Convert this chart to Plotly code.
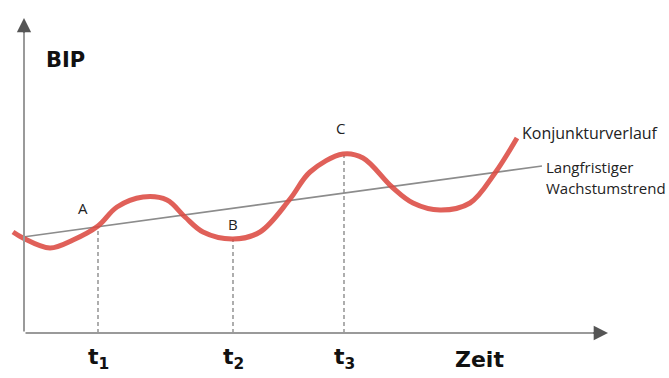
import plotly.graph_objects as go

# Konjunkturverlauf (business cycle)
curve_t = [-1.1, -0.1, 2.6, 4.9, 7.4, 9.3, 11.9, 14.3, 16.1, 17.9, 20.9, 23.6, 26.6, 28.6,
           31.9, 33.9, 36.8, 38.9, 41.6, 44.6, 47.1, 49.3]
curve_bip = [10.1, 9.5, 8.5, 9.3, 10.7, 12.6, 13.6, 13.3, 11.6, 10.1, 9.4, 10.1, 13.4, 16.1,
             17.9, 17.5, 14.6, 13.0, 12.3, 13.0, 16.0, 19.5]

# Langfristiger Wachstumstrend
trend_t = [-0.1, 51.8]
trend_bip = [9.6, 16.7]

# Marked time points t1, t2, t3 and their BIP values on the curve
point_t = [7.4, 20.9, 32.0]
point_bip = [10.7, 9.4, 17.8]
point_labels = ["t<sub>1</sub>", "t<sub>2</sub>", "t<sub>3</sub>"]

# Letters A, B, C
letter_text = ["A", "B", "C"]
letter_t = [5.9, 20.9, 31.6]
letter_bip = [12.5, 10.9, 20.5]

red = "#dc4b43"

fig = go.Figure()

# dashed drop lines
for t, b in zip(point_t, point_bip):
    fig.add_trace(go.Scatter(x=[t, t], y=[0, b], mode="lines",
                             line=dict(color="#9a9a9a", width=1.6, dash="4px,3px"),
                             hoverinfo="skip", showlegend=False))

# trend
fig.add_trace(go.Scatter(x=trend_t, y=trend_bip, mode="lines",
                         line=dict(color="#8c8c8c", width=1.6),
                         hoverinfo="skip", showlegend=False))

# business cycle
fig.add_trace(go.Scatter(x=curve_t, y=curve_bip, mode="lines",
                         line=dict(color=red, width=5, shape="spline", smoothing=1.0),
                         opacity=0.88, hoverinfo="skip", showlegend=False))

annotations = []
# axes lines
annotations.append(dict(x=58.0, y=0, ax=0, ay=0, xref="x", yref="y", axref="x", ayref="y",
                        text="", showarrow=True, arrowhead=0, arrowwidth=2,
                        arrowcolor="#9a9a9a"))
annotations.append(dict(x=0, y=31.2, ax=0, ay=0, xref="x", yref="y", axref="x", ayref="y",
                        text="", showarrow=True, arrowhead=0, arrowwidth=2,
                        arrowcolor="#9a9a9a"))
# dark arrow heads
annotations.append(dict(x=58.4, y=0, ax=56.8, ay=0, xref="x", yref="y", axref="x", ayref="y",
                        text="", showarrow=True, arrowhead=2, arrowsize=1.3, arrowwidth=2.2,
                        arrowcolor="#555"))
annotations.append(dict(x=0, y=31.5, ax=0, ay=29.9, xref="x", yref="y", axref="x", ayref="y",
                        text="", showarrow=True, arrowhead=2, arrowsize=1.3, arrowwidth=2.2,
                        arrowcolor="#555"))

hand_font = dict(family="DejaVu Sans", size=22, color="#111")
annotations.append(dict(x=4.1, y=27.3, text="<b>BIP</b>", showarrow=False,
                        font=dict(family="DejaVu Sans", size=21, color="#111")))
for t, lab in zip(point_t, point_labels):
    annotations.append(dict(x=t, y=-2.5, text="<b>" + lab + "</b>", showarrow=False, font=hand_font))
annotations.append(dict(x=45.5, y=-2.6, text="<b>Zeit</b>", showarrow=False, font=hand_font))

small = dict(family="Open Sans", size=15, color="#222")
for txt, t, b in zip(letter_text, letter_t, letter_bip):
    annotations.append(dict(x=t, y=b, text=txt, showarrow=False, font=small))

annotations.append(dict(x=49.6, y=20.0, text="Konjunkturverlauf", showarrow=False,
                        xanchor="left", font=dict(family="Open Sans", size=16, color="#222")))
annotations.append(dict(x=52.0, y=16.6, text="Langfristiger", showarrow=False,
                        xanchor="left", font=small))
annotations.append(dict(x=52.0, y=14.5, text="Wachstumstrend", showarrow=False,
                        xanchor="left", font=small))

fig.update_layout(
    width=669, height=378,
    margin=dict(l=0, r=0, t=0, b=0),
    paper_bgcolor="white", plot_bgcolor="white",
    xaxis=dict(range=[-2.4, 64.5], visible=False, fixedrange=True),
    yaxis=dict(range=[-4.5, 33.3], visible=False, fixedrange=True),
    annotations=annotations,
    showlegend=False,
)

fig.write_html("out.html", config={"displayModeBar": False},
               post_script="document.body.style.margin='0';document.body.style.overflow='hidden';")
